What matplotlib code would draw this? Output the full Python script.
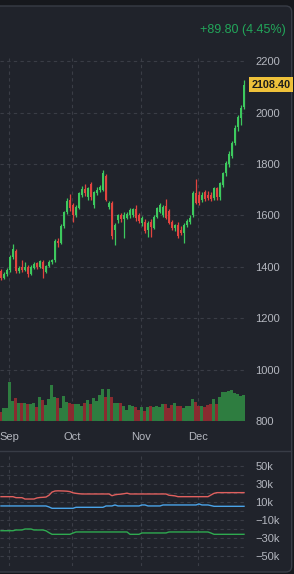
import matplotlib
matplotlib.use("Agg")
import matplotlib.pyplot as plt
import matplotlib.transforms as mtransforms
from matplotlib.patches import FancyBboxPatch
from matplotlib.lines import Line2D
import numpy as np

# Daily candles, late Aug -> late Dec
OPEN = [1385, 1358, 1372, 1388, 1440, 1462, 1385, 1398, 1388, 1400,
        1374, 1396, 1414, 1400, 1420, 1380, 1405, 1418, 1425, 1500,
        1494, 1560, 1612, 1662, 1640, 1602, 1630, 1680, 1702, 1670,
        1722, 1640, 1688, 1698, 1700, 1755, 1632, 1650, 1545, 1582,
        1600, 1585, 1590, 1600, 1600, 1625, 1600, 1572, 1575, 1545,
        1575, 1552, 1595, 1615, 1602, 1635, 1618, 1575, 1552, 1562,
        1545, 1530, 1562, 1575, 1600, 1688, 1680, 1660, 1690, 1680,
        1678, 1668, 1705, 1670, 1720, 1765, 1800, 1830, 1880, 1942,
        1980, 2020]
HIGH = [1392, 1380, 1395, 1448, 1488, 1470, 1405, 1425, 1418, 1406,
        1408, 1420, 1418, 1428, 1425, 1408, 1425, 1432, 1510, 1512,
        1565, 1618, 1668, 1682, 1648, 1640, 1692, 1715, 1722, 1712,
        1730, 1695, 1712, 1720, 1775, 1762, 1655, 1655, 1570, 1605,
        1610, 1612, 1612, 1630, 1630, 1640, 1610, 1598, 1585, 1580,
        1585, 1600, 1632, 1648, 1640, 1665, 1625, 1582, 1568, 1575,
        1560, 1570, 1585, 1600, 1695, 1740, 1695, 1690, 1700, 1695,
        1690, 1712, 1712, 1730, 1770, 1810, 1850, 1890, 1950, 1990,
        2028, 2128]
LOW = [1350, 1352, 1365, 1380, 1432, 1378, 1378, 1380, 1383, 1360,
       1370, 1390, 1392, 1396, 1358, 1376, 1400, 1412, 1420, 1478,
       1488, 1552, 1606, 1618, 1575, 1595, 1625, 1672, 1675, 1662,
       1662, 1628, 1680, 1690, 1695, 1655, 1625, 1510, 1485, 1570,
       1575, 1512, 1585, 1592, 1595, 1580, 1570, 1560, 1530, 1515,
       1515, 1548, 1590, 1608, 1595, 1585, 1565, 1545, 1540, 1512,
       1525, 1492, 1555, 1568, 1595, 1645, 1640, 1652, 1658, 1660,
       1655, 1660, 1660, 1662, 1712, 1755, 1790, 1822, 1872, 1930,
       1950, 2015]
CLOSE = [1358, 1372, 1388, 1440, 1468, 1385, 1396, 1388, 1400, 1372,
         1398, 1412, 1400, 1422, 1392, 1405, 1418, 1425, 1502, 1492,
         1560, 1612, 1658, 1630, 1602, 1632, 1686, 1702, 1688, 1705,
         1670, 1690, 1700, 1712, 1765, 1662, 1650, 1520, 1562, 1600,
         1585, 1602, 1605, 1622, 1625, 1590, 1580, 1590, 1540, 1570,
         1555, 1595, 1628, 1640, 1632, 1592, 1572, 1552, 1562, 1520,
         1532, 1562, 1578, 1592, 1688, 1650, 1648, 1680, 1665, 1668,
         1665, 1705, 1672, 1726, 1765, 1804, 1838, 1882, 1940, 1982,
         2018.6, 2108.4]

# volume (thousand shares)
VOLUME = [225, 325, 325, 975, 500, 575, 450, 450, 450, 425,
          425, 450, 350, 600, 525, 400, 550, 900, 600, 575,
          325, 625, 475, 450, 425, 425, 425, 375, 450, 525,
          425, 575, 500, 650, 800, 600, 800, 600, 450, 450,
          450, 375, 275, 400, 375, 350, 275, 350, 250, 350,
          375, 350, 375, 350, 425, 425, 325, 400, 450, 375,
          375, 325, 375, 375, 550, 475, 375, 375, 350, 400,
          425, 550, 425, 600, 725, 725, 750, 775, 700, 675,
          625, 650]

MONTHS = ["Sep", "Oct", "Nov", "Dec"]
MONTH_START = [3, 24, 47, 66]

# lower pane: three flow series (thousands)
FLOW_RED = [15.9, 15.9, 15.9, 15.9, 15.9, 14.8, 14.8, 14.8, 13.3, 13.3,
            13.3, 13.3, 14.5, 15.0, 15.2, 15.5, 17.5, 21.0, 22.2, 22.4,
            22.3, 22.2, 22.0, 21.5, 20.2, 19.6, 19.2, 18.9, 18.9, 18.9,
            18.9, 18.9, 18.9, 18.9, 18.9, 18.9, 18.9, 17.0, 18.0, 18.5,
            18.7, 19.2, 19.8, 18.9, 18.9, 18.9, 18.9, 18.9, 18.9, 18.9,
            18.9, 18.9, 18.9, 18.9, 18.9, 18.9, 17.5, 17.2, 16.8, 15.9,
            15.9, 15.9, 15.9, 15.9, 15.9, 15.9, 15.9, 15.9, 15.9, 15.9,
            17.8, 19.6, 20.4, 20.4, 20.4, 20.4, 20.4, 20.4, 20.4, 20.4,
            20.4, 20.4]
FLOW_BLUE = [5.6, 5.6, 5.6, 5.6, 5.6, 5.6, 5.6, 5.6, 5.6, 5.6,
             5.6, 5.6, 5.6, 5.6, 5.6, 5.6, 4.5, 3.0, 3.0, 3.0,
             3.0, 3.0, 3.0, 3.0, 3.0, 4.1, 4.1, 4.1, 4.1, 4.1,
             4.1, 4.1, 4.1, 4.1, 4.1, 5.6, 5.6, 5.6, 6.7, 5.6,
             5.6, 5.6, 5.6, 5.6, 5.6, 5.6, 5.6, 6.7, 6.7, 5.6,
             5.6, 5.6, 5.6, 5.6, 6.7, 6.7, 6.7, 6.7, 6.7, 6.7,
             6.7, 6.7, 6.7, 6.7, 6.7, 6.7, 7.8, 6.7, 6.7, 6.7,
             6.0, 5.2, 5.2, 5.2, 5.2, 5.2, 5.2, 5.2, 5.2, 5.2,
             5.2, 5.2]
FLOW_GREEN = [-21.9, -21.9, -21.9, -21.9, -21.9, -21.1, -21.1, -21.1, -20.0, -20.0,
              -20.0, -21.1, -21.1, -21.1, -21.1, -22.0, -24.1, -25.9, -25.9, -25.9,
              -25.9, -25.9, -25.9, -25.9, -24.5, -23.3, -23.3, -23.3, -23.3, -23.3,
              -23.3, -23.3, -23.3, -23.3, -23.3, -23.3, -23.3, -23.3, -23.3, -23.3,
              -23.3, -23.3, -23.3, -25.9, -25.9, -25.9, -25.9, -24.4, -24.4, -24.4,
              -24.4, -24.4, -24.4, -24.4, -24.4, -24.4, -23.3, -23.3, -23.3, -23.3,
              -23.3, -23.3, -23.3, -23.3, -23.3, -23.3, -23.3, -23.3, -23.3, -23.3,
              -24.5, -25.9, -25.9, -25.9, -25.9, -25.9, -25.9, -25.9, -25.9, -25.9,
              -25.9, -25.9]

PRICE_TICKS = [800, 1000, 1200, 1400, 1600, 1800, 2000, 2200]
FLOW_TICKS = [-50, -30, -10, 10, 30, 50]
FLOW_LABELS = ["\u221250k", "\u221230k", "\u221210k", "10k", "30k", "50k"]

UP = "#3dc95e"
DOWN = "#e2443f"
UP_VOL = "#2e7d40"
DOWN_VOL = "#8a2b30"
GRID = "#3a3d46"
TXT = "#b4b7bf"
PANEL = "#20232b"

plt.rcParams["font.family"] = ["Liberation Sans", "DejaVu Sans"]

W, H = 294, 574
fig = plt.figure(figsize=(W / 100, H / 100), dpi=100, facecolor="#16181d")

# rounded panel (behind everything)
panel = FancyBboxPatch((-10, 2), 301.7, 566, boxstyle="round,pad=0,rounding_size=6",
                       transform=mtransforms.IdentityTransform(),
                       fc=PANEL, ec="#383c46", lw=1.0, zorder=-5)
fig.patches.append(panel)
fig.add_artist(Line2D([0, 291], [123, 123], transform=mtransforms.IdentityTransform(),
                      color="#383c46", lw=1.0, zorder=-4))

x = np.arange(len(CLOSE))
o = np.array(OPEN, float)
c = np.array(CLOSE, float)
up = c >= o
colors = np.where(up, UP, DOWN)
vcolors = np.where(up, UP_VOL, DOWN_VOL)

ax_w = 247 / W
axv = fig.add_axes([0, 1 - 421.3 / H, ax_w, (421.3 - 58) / H])
ax = fig.add_axes([0, 1 - 421.3 / H, ax_w, (421.3 - 58) / H], sharex=axv)
axf = fig.add_axes([0, 1 - 566 / H, ax_w, (566 - 455) / H], sharex=axv)
axv.set_zorder(1)
ax.set_zorder(2)
axf.set_zorder(1)

month_pos = [m - 0.33 for m in MONTH_START]

for a in (ax, axv, axf):
    a.set_facecolor("none")
    for s in a.spines.values():
        s.set_visible(False)
    a.tick_params(length=0, colors=TXT, labelsize=8)

# grid
for m in month_pos:
    axv.axvline(m, color=GRID, lw=0.8, ls=(0, (3, 3)), zorder=0)
    axf.axvline(m, color=GRID, lw=0.8, ls=(0, (3, 3)), zorder=0)
for p in PRICE_TICKS:
    ax.axhline(p, color=GRID, lw=0.8, ls=(0, (3, 3)), zorder=0)
for v in range(-50, 60, 10):
    axf.axhline(v, color=GRID, lw=0.8, ls=(0, (3, 3)), zorder=0)

# volume
axv.bar(x, VOLUME, width=1.0, color=vcolors, lw=0, zorder=1)
axv.set_ylim(0, max(VOLUME) * 363.3 / 39)
axv.set_yticks([])
axv.tick_params(labelbottom=False)

# candles
ax.vlines(x, LOW, HIGH, colors=colors, lw=0.9, zorder=3)
body = np.maximum(np.abs(c - o), 3)
ax.bar(x, body, bottom=np.minimum(o, c), width=0.78, color=colors, lw=0, zorder=4)
ax.set_xlim(-0.33, 82)
ax.set_ylim(800, 2212)
ax.yaxis.tick_right()
ax.set_yticks(PRICE_TICKS)
ax.set_yticklabels([str(p) for p in PRICE_TICKS])
ax.tick_params(axis="y", pad=6)
ax.set_xticks(month_pos)
ax.set_xticklabels(MONTHS)
ax.tick_params(axis="x", pad=8, labelbottom=True)

# last price tag
tr = mtransforms.blended_transform_factory(ax.transAxes, ax.transData)
ax.text(1.018, CLOSE[-1], "%.2f" % CLOSE[-1], transform=tr, ha="left", va="center",
        fontsize=7.8, fontweight="bold", color="#1b1b1b",
        bbox=dict(boxstyle="square,pad=0.2", fc="#eec13a", ec="none"))

# change text
chg = CLOSE[-1] - CLOSE[-2]
pct = chg / CLOSE[-2] * 100
fig.text(286 / W, 1 - 30 / H, "+%.2f (%.2f%%)" % (chg, pct), ha="right", va="center",
         fontsize=9, color="#22a65a")

# flow lines
axf.plot(x, FLOW_RED, color="#e0605e", lw=1.0)
axf.plot(x, FLOW_BLUE, color="#4aa3e8", lw=1.0)
axf.plot(x, FLOW_GREEN, color="#2faa50", lw=1.0)
axf.set_ylim(-61.1, 62.2)
axf.yaxis.tick_right()
axf.set_yticks(FLOW_TICKS)
axf.set_yticklabels(FLOW_LABELS)
axf.tick_params(axis="y", pad=6)
axf.tick_params(labelbottom=False)

fig.savefig("out.png", dpi=100, facecolor=fig.get_facecolor())
